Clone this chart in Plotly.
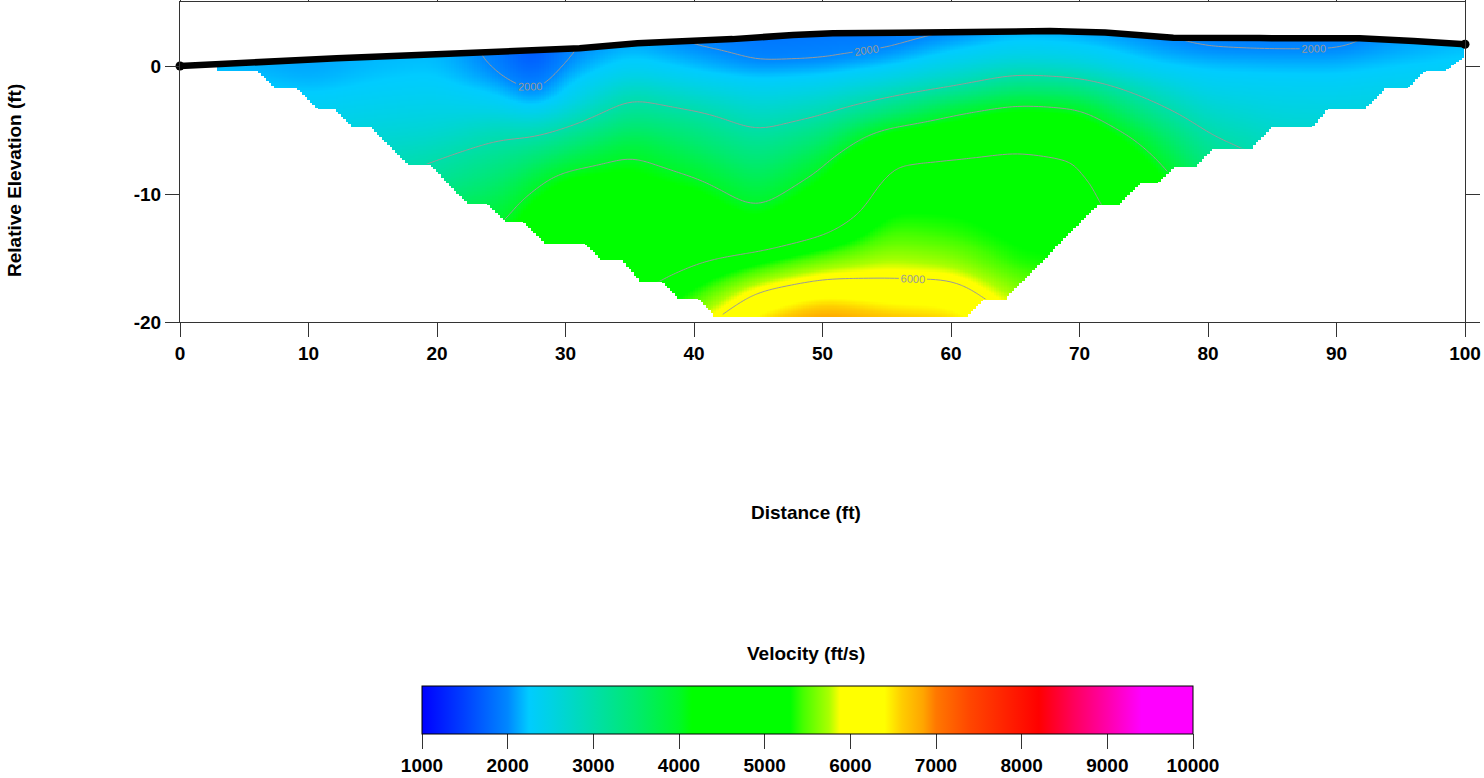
import numpy as np
import plotly.graph_objects as go

FONT = "Liberation Sans, Arial, sans-serif"

# Ground surface along the profile (distance ft, relative elevation ft)
topo_x = [0, 6, 12.2, 18.5, 25.1, 31.1, 35.6, 38.1, 43, 47.7, 50.8, 56, 62.5,
          67.7, 72, 75.5, 77.3, 84, 91.8, 96, 100]
topo_e = [0, 0.33, 0.6, 0.85, 1.12, 1.38, 1.77, 1.85, 2.1, 2.42, 2.55, 2.6, 2.68,
          2.73, 2.62, 2.37, 2.21, 2.18, 2.16, 1.95, 1.7]

# Lower limit of ray coverage (distance ft, elevation ft)
cov_x = [2.96, 5.99, 7.39, 9.1, 10.66, 12.06, 13.39, 14.79, 17.74, 19.46, 22.33,
         23.89, 25.29, 26.69, 28.4, 31.5, 32.8, 34.4, 35.8, 37.5, 38.75, 40.3,
         41.6, 61.3, 62.5, 64.2, 71.4, 73.0, 74.7, 76.1, 77.4, 79.1, 80.4, 83.4,
         85.0, 88.1, 89.3, 92.2, 93.8, 95.5, 96.9, 98.4, 99.8]
cov_e = [-0.39, -0.39, -1.72, -1.72, -3.36, -3.36, -4.77, -4.77, -7.73, -7.73,
         -10.7, -10.7, -12.19, -12.19, -13.83, -13.83, -15.16, -15.16, -16.8,
         -16.8, -18.1, -18.1, -19.5, -19.5, -18.2, -18.2, -10.8, -10.8, -9.14,
         -9.14, -7.8, -7.8, -6.4, -6.4, -4.77, -4.77, -3.36, -3.36, -1.72, -1.72,
         -0.39, -0.39, 0.62]

# Velocity model (ft/s): one profile per distance, values at model_depth below surface
model_x = [0, 5, 10, 15, 20, 25, 27.5, 30, 35, 40, 45, 50, 55, 60, 65, 70, 75,
           80, 85, 90, 95, 100]
model_depth = [0, 1, 2, 3, 4, 6, 8, 10, 12, 14, 16, 18, 20, 22, 24]
vel_profiles = [
    [2200, 2250, 2320, 2400, 2480, 2650, 2850, 3050, 3250, 3450, 3650, 3850, 4050, 4250, 4450],
    [2150, 2200, 2280, 2380, 2460, 2640, 2840, 3050, 3250, 3450, 3650, 3850, 4050, 4250, 4450],
    [2100, 2120, 2180, 2280, 2380, 2580, 2800, 3020, 3250, 3450, 3650, 3850, 4050, 4250, 4450],
    [2180, 2200, 2250, 2330, 2420, 2600, 2800, 3000, 3200, 3400, 3600, 3800, 4000, 4200, 4400],
    [2200, 2230, 2280, 2360, 2450, 2650, 2960, 3200, 3600, 3800, 4000, 4200, 4400, 4600, 4800],
    [1900, 1960, 2040, 2200, 2350, 2850, 3200, 3500, 3780, 4020, 4250, 4450, 4650, 4850, 5050],
    [1550, 1640, 1760, 1900, 2080, 2750, 3330, 3820, 4200, 4450, 4650, 4850, 5050, 5250, 5450],
    [1980, 2040, 2140, 2250, 2370, 2950, 3550, 4150, 4500, 4750, 4950, 5150, 5350, 5550, 5750],
    [2150, 2250, 2400, 2650, 2950, 3400, 3900, 4200, 4350, 4500, 4650, 4800, 4950, 5100, 5300],
    [1960, 2080, 2200, 2380, 2620, 3150, 3520, 3900, 4250, 4520, 4780, 5060, 5400, 5800, 6200],
    [1870, 1930, 2005, 2200, 2380, 2750, 3120, 3450, 3750, 4100, 4750, 5400, 6050, 6500, 6900],
    [1880, 1940, 1990, 2200, 2400, 2900, 3400, 3880, 4250, 4600, 5050, 5650, 6250, 6850, 7300],
    [1900, 1970, 2100, 2350, 2620, 3330, 4250, 4960, 5150, 5300, 5500, 5800, 6150, 6600, 7000],
    [1990, 2150, 2350, 2600, 2880, 3810, 4480, 5030, 5180, 5280, 5420, 5700, 6150, 6500, 6900],
    [2150, 2300, 2520, 2850, 3250, 4100, 4750, 5100, 5150, 5200, 5250, 5350, 5600, 5900, 6200],
    [2100, 2250, 2450, 2750, 3150, 4000, 4550, 5000, 5120, 5180, 5230, 5300, 5450, 5600, 5800],
    [2020, 2120, 2250, 2450, 2750, 3300, 3850, 4250, 4550, 4750, 4920, 5080, 5200, 5300, 5400],
    [1950, 2020, 2180, 2300, 2420, 2750, 3060, 3350, 3700, 4000, 4300, 4550, 4800, 5000, 5200],
    [1920, 2010, 2150, 2280, 2380, 2580, 2800, 3000, 3250, 3500, 3750, 4000, 4200, 4400, 4600],
    [1930, 2010, 2150, 2270, 2370, 2560, 2750, 2950, 3150, 3350, 3550, 3750, 3950, 4150, 4350],
    [2080, 2150, 2250, 2350, 2450, 2620, 2800, 2980, 3150, 3350, 3550, 3750, 3950, 4150, 4350],
    [2200, 2250, 2330, 2420, 2500, 2660, 2830, 3000, 3170, 3350, 3550, 3750, 3950, 4150, 4350],
]

x_ticks = list(range(0, 101, 10))
y_ticks = [-20, -10, 0]
y_tick_text = ["-20", "-10", "0"]
vel_ticks = list(range(1000, 10001, 1000))
vel_min, vel_max = 1000, 10000

# Velocity colour table (ft/s -> colour)
vel_stops = [1000, 1500, 2000, 2250, 2500, 3000, 3500, 4000, 4150, 5300, 5450,
             5750, 5880, 6400, 6600, 6850, 7000, 7400, 8200, 8600, 9000, 9400, 10000]
vel_colors = ["rgb(0,0,255)", "rgb(0,65,255)", "rgb(0,135,255)", "rgb(0,204,255)",
              "rgb(0,210,228)", "rgb(0,222,170)", "rgb(0,234,110)", "rgb(0,248,40)",
              "rgb(0,255,0)", "rgb(0,255,0)", "rgb(70,255,0)", "rgb(170,255,0)",
              "rgb(255,255,0)", "rgb(255,255,0)", "rgb(255,205,0)", "rgb(255,165,0)",
              "rgb(255,120,0)", "rgb(255,70,0)", "rgb(255,0,0)", "rgb(255,0,90)",
              "rgb(255,0,170)", "rgb(255,0,255)", "rgb(255,0,255)"]
colorscale = [[(v - vel_min) / (vel_max - vel_min), c] for v, c in zip(vel_stops, vel_colors)]

# ---- grid the model onto distance / elevation ----
gx = np.round(np.arange(0, 100.001, 0.2), 3)
ge = np.round(np.arange(-20.0, 3.001, 0.1), 3)
topo_g = np.interp(gx, topo_x, topo_e)

prof = np.array(vel_profiles, dtype=float).T          # (depth, distance)
along_x = np.array([np.interp(gx, model_x, row) for row in prof])
V = np.empty((ge.size, gx.size))
for j in range(gx.size):
    V[:, j] = np.interp(topo_g[j] - ge, model_depth, along_x[:, j])


def gauss(sigma, step):
    n = int(np.ceil(3 * sigma / step))
    t = np.arange(-n, n + 1) * step
    k = np.exp(-0.5 * (t / sigma) ** 2)
    return k / k.sum()


def smooth(a, k, axis):
    pad = len(k) // 2
    a = np.moveaxis(a, axis, -1)
    ap = np.pad(a, [(0, 0)] * (a.ndim - 1) + [(pad, pad)], mode="edge")
    out = np.apply_along_axis(lambda r: np.convolve(r, k, mode="valid"), -1, ap)
    return np.moveaxis(out, -1, axis)


V = smooth(V, gauss(1.1, 0.2), 1)
V = smooth(V, gauss(0.4, 0.1), 0)

bottom_g = np.interp(gx, cov_x, cov_e)
inside = ((gx >= cov_x[0]) & (gx <= cov_x[-1]))[None, :] \
    & (ge[:, None] <= topo_g[None, :]) & (ge[:, None] >= bottom_g[None, :])
Z = np.where(inside, V, np.nan)

# plot-area geometry in pixels (used to place the colour bar and titles)
PL, PR, PT, PB = 180, 1465, 2, 322
PW, PH = PR - PL, PB - PT

fig = go.Figure()

fig.add_trace(go.Heatmap(
    x=gx, y=ge, z=Z, zmin=vel_min, zmax=vel_max, colorscale=colorscale,
    hoverinfo="skip",
    colorbar=dict(
        orientation="h", xref="paper", yref="paper",
        x=(807.5 - PL) / PW, xanchor="center", y=(PB - 686) / PH, yanchor="top",
        lenmode="pixels", len=771, thicknessmode="pixels", thickness=48,
        xpad=0, ypad=0, outlinecolor="black", outlinewidth=1,
        tickvals=vel_ticks, ticktext=[str(v) for v in vel_ticks],
        ticks="outside", ticklen=15, tickcolor="#333",
        tickfont=dict(family=FONT, size=19, color="black", weight="bold"),
    ),
))

cx, ce, cz = gx[::2], ge[::2], Z[::2, ::2]
line_style = dict(color="#999999", width=1)
fig.add_trace(go.Contour(
    x=cx, y=ce, z=cz, showscale=False, hoverinfo="skip", connectgaps=False,
    contours=dict(coloring="none", start=2000, end=6000, size=2000,
                  showlabels=True, labelformat="d",
                  labelfont=dict(family=FONT, size=11, color="#999999")),
    line=line_style,
))
fig.add_trace(go.Contour(
    x=cx, y=ce, z=cz, showscale=False, hoverinfo="skip", connectgaps=False,
    contours=dict(coloring="none", start=3000, end=5000, size=2000, showlabels=False),
    line=line_style,
))

# ground surface
fig.add_trace(go.Scatter(
    x=topo_x, y=topo_e, mode="lines", line=dict(color="black", width=6.5),
    hoverinfo="skip", showlegend=False,
))
fig.add_trace(go.Scatter(
    x=[topo_x[0], topo_x[-1]], y=[topo_e[0], topo_e[-1]], mode="markers",
    marker=dict(color="black", size=9), cliponaxis=False,
    hoverinfo="skip", showlegend=False,
))

axis_common = dict(
    showgrid=False, zeroline=False, showline=True, linecolor="#333", linewidth=1,
    mirror="ticks", ticks="outside", ticklen=14, tickcolor="#333", automargin=False,
    tickfont=dict(family=FONT, size=19, color="black", weight="bold"),
)
fig.update_xaxes(range=[0, 100], tickvals=x_ticks, **axis_common)
fig.update_yaxes(range=[-20, 5], tickvals=y_ticks, ticktext=y_tick_text, **axis_common)

title_font = dict(family=FONT, size=19, color="black", weight="bold")
fig.add_annotation(text="Distance (ft)", xref="paper", yref="paper",
                   x=(806 - PL) / PW, y=(PB - 512) / PH,
                   xanchor="center", yanchor="middle", showarrow=False, font=title_font)
fig.add_annotation(text="Relative Elevation (ft)", xref="paper", yref="paper",
                   x=(14 - PL) / PW, y=(PB - 180) / PH, textangle=-90,
                   xanchor="center", yanchor="middle", showarrow=False, font=title_font)
fig.add_annotation(text="Velocity (ft/s)", xref="paper", yref="paper",
                   x=(806 - PL) / PW, y=(PB - 653) / PH,
                   xanchor="center", yanchor="middle", showarrow=False, font=title_font)

fig.update_layout(
    width=1484, height=778, margin=dict(l=PL, r=1484 - PR, t=PT, b=778 - PB),
    paper_bgcolor="white", plot_bgcolor="white", showlegend=False,
    hovermode=False, font=dict(family=FONT),
)

fig.write_html("out.html")
